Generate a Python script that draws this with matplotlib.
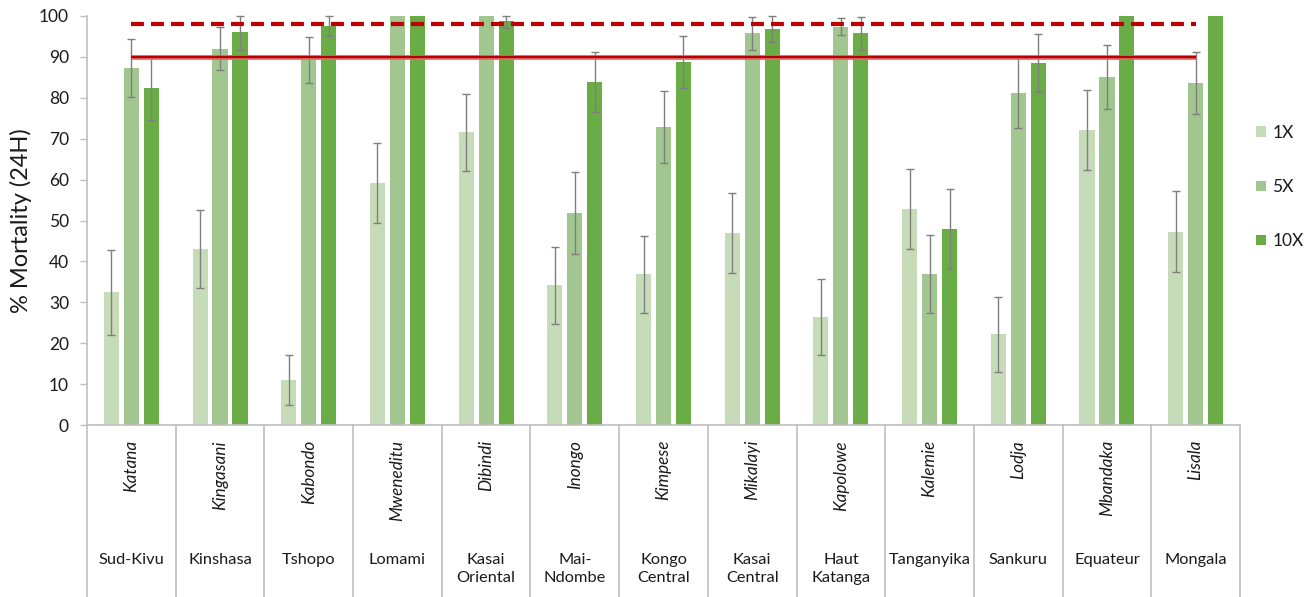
import numpy as np
import matplotlib
matplotlib.use("Agg")
import matplotlib.pyplot as plt
import matplotlib.transforms as mtransforms
from matplotlib import patheffects as pe

plt.rcParams['font.family'] = ['Lato', 'DejaVu Sans']

# Sentinel sites and their provinces
sites = ["Katana", "Kingasani", "Kabondo", "Mweneditu", "Dibindi", "Inongo",
         "Kimpese", "Mikalayi", "Kapolowe", "Kalemie", "Lodja", "Mbandaka", "Lisala"]
provinces = ["Sud-Kivu", "Kinshasa", "Tshopo", "Lomami", "Kasai\nOriental",
             "Mai-\nNdombe", "Kongo\nCentral", "Kasai\nCentral", "Haut\nKatanga",
             "Tanganyika", "Sankuru", "Equateur", "Mongala"]

# 24h mortality (%) by insecticide dose, with 95% CI half-widths
mort_1x = [32.4, 43.0, 11.0, 59.2, 71.6, 34.2, 36.9, 46.9, 26.4, 52.8, 22.2, 72.1, 47.2]
err_1x = [10.3, 9.5, 6.2, 9.8, 9.4, 9.4, 9.4, 9.8, 9.2, 9.8, 9.2, 9.8, 9.9]
mort_5x = [87.3, 92.0, 89.2, 100, 100, 51.8, 72.9, 95.8, 97.4, 36.9, 81.2, 85.1, 83.6]
err_5x = [7.0, 5.3, 5.7, 0, 0, 10.0, 8.8, 4.0, 2.0, 9.5, 8.6, 7.8, 7.5]
mort_10x = [82.4, 96.0, 97.5, 100, 98.8, 83.9, 88.7, 96.8, 95.8, 47.9, 88.5, 100, 100]
err_10x = [7.8, 4.2, 2.5, 0, 1.8, 7.3, 6.3, 3.2, 4.0, 9.8, 7.0, 0, 0]

series_labels = ["1X", "5X", "10X"]
series_colors = ["#c6dcb9", "#a2c68f", "#6aac46"]

threshold_confirmed = 90
threshold_susceptible = 98

text_color = "#1a1a1a"

fig = plt.figure(figsize=(13.15, 5.97), dpi=100)
ax = fig.add_axes([87 / 1315, 1 - 425 / 597, (1240 - 87) / 1315, (425 - 16) / 597])

x = np.arange(len(sites))
width = 0.17
offsets = [-0.225, 0.0, 0.225]
series = [(mort_1x, err_1x), (mort_5x, err_5x), (mort_10x, err_10x)]

grey = "#bfbfbf"
for (vals, errs), off, col, lab in zip(series, offsets, series_colors, series_labels):
    vals = np.array(vals, dtype=float)
    errs = np.array(errs, dtype=float)
    ax.bar(x + off, vals, width, color=col, label=lab, zorder=2, clip_on=False)
    m = errs > 0
    upper = np.minimum(errs, 100 - vals)
    ax.errorbar(x[m] + off, vals[m], yerr=[errs[m], upper[m]], fmt="none",
                ecolor="#7f7f7f", elinewidth=1.0, capsize=3.2, capthick=1.0,
                zorder=3, clip_on=False)

# Resistance thresholds
ax.plot([x[0], x[-1]], [threshold_confirmed] * 2, color="#b80000", lw=1.6,
        zorder=4, solid_capstyle="butt",
        path_effects=[pe.withStroke(linewidth=3.4, foreground="#e06a6a")])
ax.plot([x[0], x[-1]], [threshold_susceptible] * 2, color="#c00000", lw=3.0,
        ls=(0, (3.1, 1.7)), zorder=4, clip_on=False, dash_capstyle="butt")

ax.set_xlim(-0.5, len(sites) - 0.5)
ax.set_ylim(0, 100)
ax.set_yticks(np.arange(0, 101, 10))
ax.tick_params(axis="y", length=5, width=1, color=grey, labelsize=12.5,
               labelcolor=text_color, pad=8)
ax.set_xticks([])
for s in ["top", "right"]:
    ax.spines[s].set_visible(False)
ax.spines["left"].set_color(grey)
ax.spines["bottom"].set_color(grey)
ax.spines["left"].set_linewidth(1.2)
ax.spines["bottom"].set_linewidth(1.2)

ax.set_ylabel("% Mortality (24H)", fontsize=17, color=text_color)
ax.yaxis.set_label_coords((32 - 87) / 1153, 0.5)

# Category table below the axis
trans = mtransforms.blended_transform_factory(ax.transData, ax.transAxes)
bottom_axes = -(597 - 425) / 409
for b in np.arange(-0.5, len(sites), 1.0):
    ax.plot([b, b], [0, bottom_axes], color=grey, lw=1.2, transform=trans,
            clip_on=False, zorder=1)

for i, (s, p) in enumerate(zip(sites, provinces)):
    ax.text(i, -15 / 409, s, rotation=90, ha="center", va="top",
            fontsize=12.3, style="italic", color=text_color, transform=trans)
    ax.text(i, -(553 - 425) / 409, p, ha="center", va="top", fontsize=11.8,
            color=text_color, transform=trans, linespacing=1.35)

handles, labels = ax.get_legend_handles_labels()
fig.legend(handles, labels, loc="center left", bbox_to_anchor=(1256 / 1315, 1 - 187 / 597),
           frameon=False, fontsize=12.5, labelspacing=2.2, handlelength=0.55,
           handleheight=0.55, handletextpad=0.4, borderpad=0, borderaxespad=0,
           labelcolor=text_color)

fig.savefig("out.png", dpi=100, facecolor="white")
